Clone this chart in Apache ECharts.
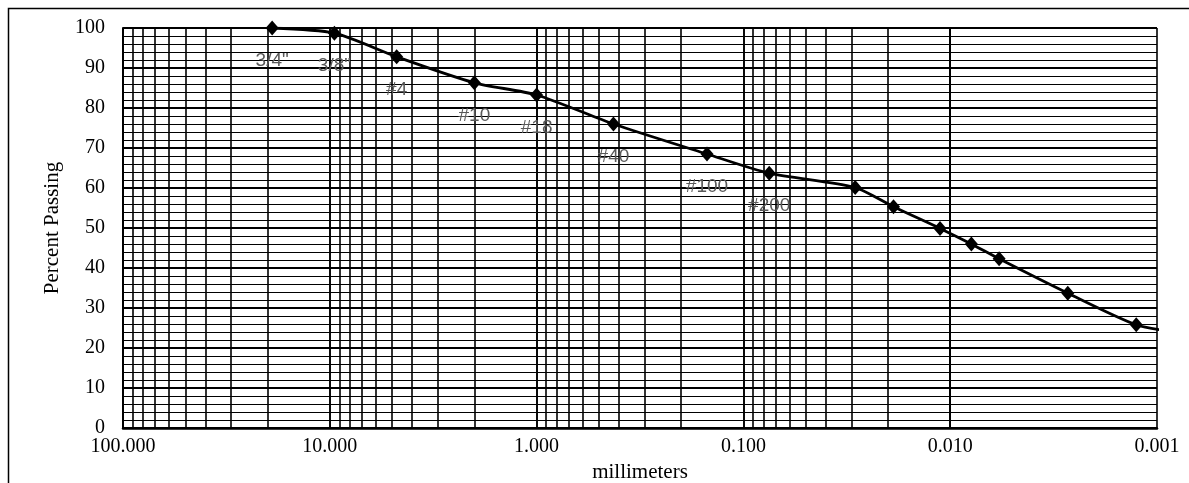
<!DOCTYPE html>
<html>
<head>
<meta charset="utf-8">
<script src="https://cdn.jsdelivr.net/npm/echarts@6/dist/echarts.min.js"></script>
<style>
html,body{margin:0;padding:0;background:#fff;overflow:hidden;}
#chart{width:1189px;height:483px;}
</style>
</head>
<body>
<div id="chart"></div>
<script>
// Grain size (mm) and percent passing
var sizes = [19.0, 9.5, 4.75, 2.0, 1.0, 0.425, 0.15, 0.075, 0.0288, 0.0188, 0.0112, 0.0079, 0.0058, 0.0027, 0.00126, 0.0008];
var passing = [100, 98.7, 92.8, 86.3, 83.25, 76.0, 68.5, 63.7, 60.1, 55.3, 49.9, 46.0, 42.3, 33.7, 25.8, 24.0];
var sieveLabels = ['3/4"', '3/8"', '#4', '#10', '#18', '#40', '#100', '#200', '', '', '', '', '', '', '', ''];
var xTickDecimals = 3;

// log-scale grid line positions (1..9 x each decade)
var gridVals = [];
for (var e = -3; e <= 1; e++) {
  for (var m = 1; m <= 9; m++) gridVals.push(m * Math.pow(10, e));
}
gridVals.push(100);

var chart = echarts.init(document.getElementById('chart'), null, {renderer: 'canvas'});
var serif = 'Liberation Serif';
var pts = sizes.map(function (s, i) {
  return {value: [s, passing[i]], label: {show: sieveLabels[i] !== ''}, symbol: i === sizes.length - 1 ? 'none' : 'diamond'};
});

chart.setOption({
  animation: false,
  backgroundColor: '#fff',
  graphic: [{
    type: 'rect', left: 6, top: 6, z: 100, silent: true,
    shape: {width: 1250, height: 520},
    style: {fill: 'none', stroke: '#000', lineWidth: 1.5}
  }],
  grid: {left: 123, right: 32, top: 28, bottom: 55, containLabel: false, outerBoundsMode: 'none'},
  xAxis: {
    type: 'log', logBase: 10, min: 0.001, max: 100, inverse: true,
    name: 'millimeters', nameLocation: 'middle', nameGap: 31,
    nameTextStyle: {fontFamily: serif, fontSize: 21, color: '#000'},
    axisLine: {show: true, lineStyle: {color: '#000', width: 2.5}},
    axisTick: {show: false},
    axisLabel: {
      fontFamily: serif, fontSize: 20, color: '#000', margin: 9,
      formatter: function (v) { return Number(v).toFixed(xTickDecimals); }
    },
    splitLine: {show: true, lineStyle: {color: '#000', width: 1.6}}
  },
  yAxis: {
    type: 'value', min: 0, max: 100, interval: 10,
    name: 'Percent Passing', nameLocation: 'middle', nameGap: 60,
    nameTextStyle: {fontFamily: serif, fontSize: 21, color: '#000'},
    axisLine: {show: true, lineStyle: {color: '#000', width: 2}},
    axisTick: {show: false},
    minorTick: {show: false, splitNumber: 5},
    axisLabel: {fontFamily: serif, fontSize: 20, color: '#000', margin: 18},
    splitLine: {show: true, lineStyle: {color: '#000', width: 2}},
    minorSplitLine: {show: true, lineStyle: {color: '#000', width: 1.1}}
  },
  series: [{
    type: 'line',
    z: 5,
    data: pts,
    smooth: 0.25,
    clip: true,
    symbol: 'diamond',
    symbolSize: [13, 15],
    itemStyle: {color: '#000'},
    lineStyle: {color: '#000', width: 2.8},
    label: {
      show: true, position: 'bottom', distance: 16,
      fontFamily: 'Liberation Sans', fontSize: 19, color: '#595959',
      formatter: function (p) { return sieveLabels[p.dataIndex]; }
    },
    markLine: {
      silent: true, z: 1, symbol: 'none', animation: false,
      label: {show: false},
      lineStyle: {color: '#000', width: 1.6, type: 'solid'},
      emphasis: {disabled: true},
      data: gridVals.map(function (v) { return {xAxis: v}; })
    }
  }]
});
</script>
</body>
</html>
